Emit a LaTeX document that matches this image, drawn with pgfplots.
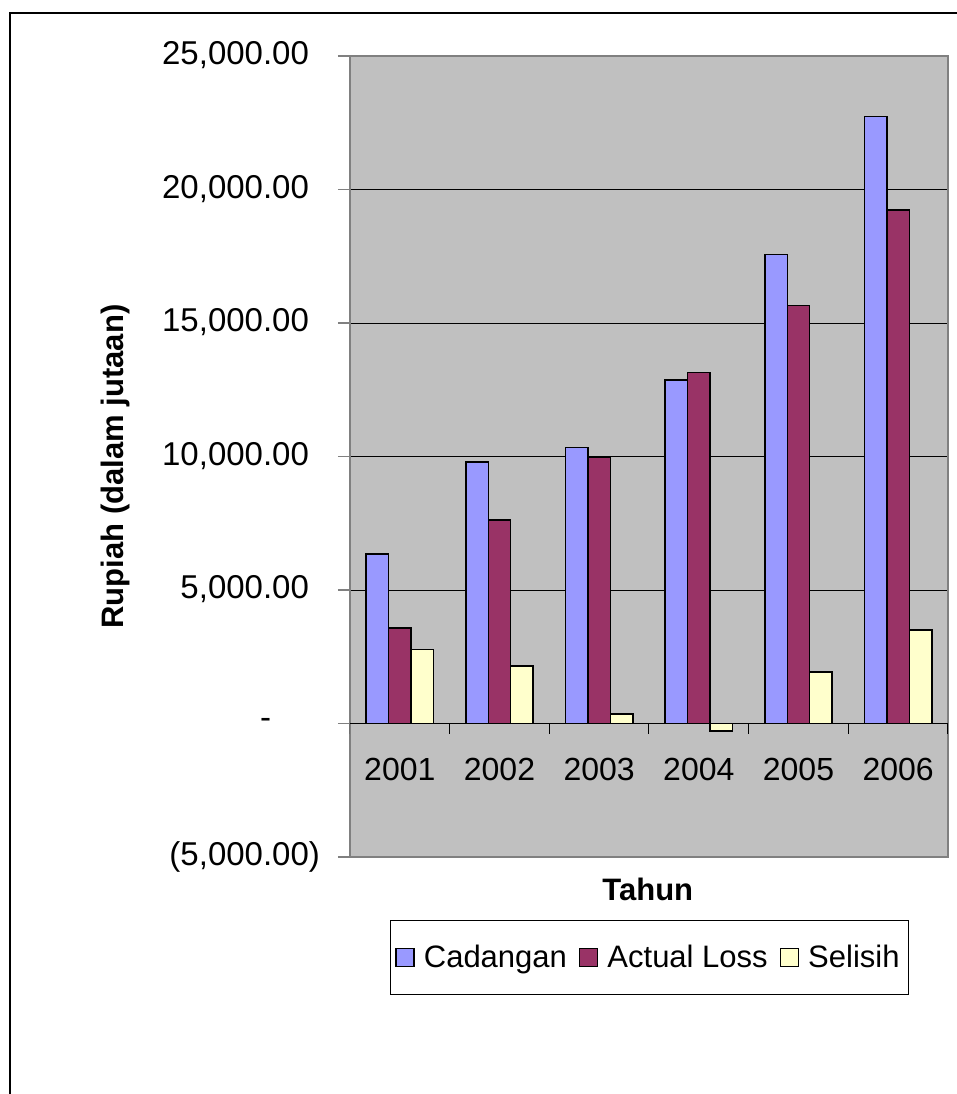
\documentclass[border=0pt]{standalone}
\usepackage{fontspec}
\setmainfont{Liberation Sans}
\usepackage{pgfplots}
\pgfplotsset{compat=1.18}
\definecolor{cad}{HTML}{9999FF}
\definecolor{act}{HTML}{993366}
\definecolor{sel}{HTML}{FFFFCC}
\definecolor{plotbg}{HTML}{C0C0C0}
\definecolor{bordergray}{HTML}{808080}
\newcommand{\lblfont}{\fontsize{15.5}{18}\selectfont}
\begin{document}
\begin{tikzpicture}
\path[use as bounding box] (0,0) rectangle (478.5pt,-547pt);
\fill[white] (0,0) rectangle (478.5pt,-547pt);
\draw[black, line width=1.3pt] (5pt,-560pt) -- (5pt,-6.5pt) -- (490pt,-6.5pt);
\begin{axis}[
  at={(175pt,-28pt)}, anchor=north west,
  scale only axis, width=299pt, height=400.5pt,
  xmin=-0.5, xmax=5.5, ymin=-5000, ymax=25000,
  ybar=0pt, bar width=0.225,
  axis background/.style={fill=plotbg},
  axis line style={draw=bordergray, line width=0.7pt},
  scaled y ticks=false,
  ytick={-5000,0,5000,10000,15000,20000,25000},
  yticklabels={{(5,000.00)},{-\rule{1.48em}{0pt}},{5,000.00\phantom{)}},{10,000.00\phantom{)}},{15,000.00\phantom{)}},{20,000.00\phantom{)}},{25,000.00\phantom{)}}},
  ymajorgrids, grid style={black, line width=0.5pt},
  ytick align=outside, ytick pos=left, major tick length=6pt,
  ytick style={bordergray, line width=0.6pt},
  yticklabel style={font=\fontsize{16.5}{19}\selectfont, xshift=-5.5pt},
  xtick={0,1,2,3,4,5}, xticklabels={2001,2002,2003,2004,2005,2006},
  xtick style={draw=none},
  xticklabel style={font=\fontsize{16}{19}\selectfont, yshift=59pt},
  /pgf/number format/assume math mode=true,
  xlabel={Tahun}, ylabel={Rupiah (dalam jutaan)},
  label style={font=\lblfont\bfseries},
  xlabel style={at={(axis description cs:0.498,-0.04)}, anchor=center},
  ylabel style={at={(axis description cs:-0.393,0.4875)}, anchor=center},
  legend columns=3,
  legend style={at={(axis description cs:0.5008,-0.1255)}, anchor=center,
    draw=black, line width=0.5pt, font=\lblfont, inner xsep=2.5pt, inner ysep=10pt,
    /tikz/every odd column/.append style={column sep=2.5pt},
    /tikz/every even column/.append style={column sep=4pt}},
  legend image code/.code={\draw[#1,draw=black,line width=0.75pt] (0pt,-4.5pt) rectangle (9pt,4.5pt);},
]
\addplot[fill=cad, draw=black, line width=0.75pt] coordinates {(0,6350) (1,9790) (2,10330) (3,12860) (4,17570) (5,22740)};
\addplot[fill=act, draw=black, line width=0.75pt] coordinates {(0,3580) (1,7630) (2,9970) (3,13140) (4,15650) (5,19240)};
\addplot[fill=sel, draw=black, line width=0.75pt] coordinates {(0,2770) (1,2160) (2,360) (3,-280) (4,1920) (5,3500)};
\legend{Cadangan, Actual Loss, Selisih}
\draw[black, line width=0.6pt] (axis cs:-0.5,0) -- (axis cs:5.5,0);
\pgfplotsinvokeforeach{-0.5,0.5,1.5,2.5,3.5,4.5,5.5}{\draw[black,line width=0.5pt] (axis cs:#1,0) -- ++(0pt,-5pt);}
\end{axis}
\end{tikzpicture}
\end{document}
